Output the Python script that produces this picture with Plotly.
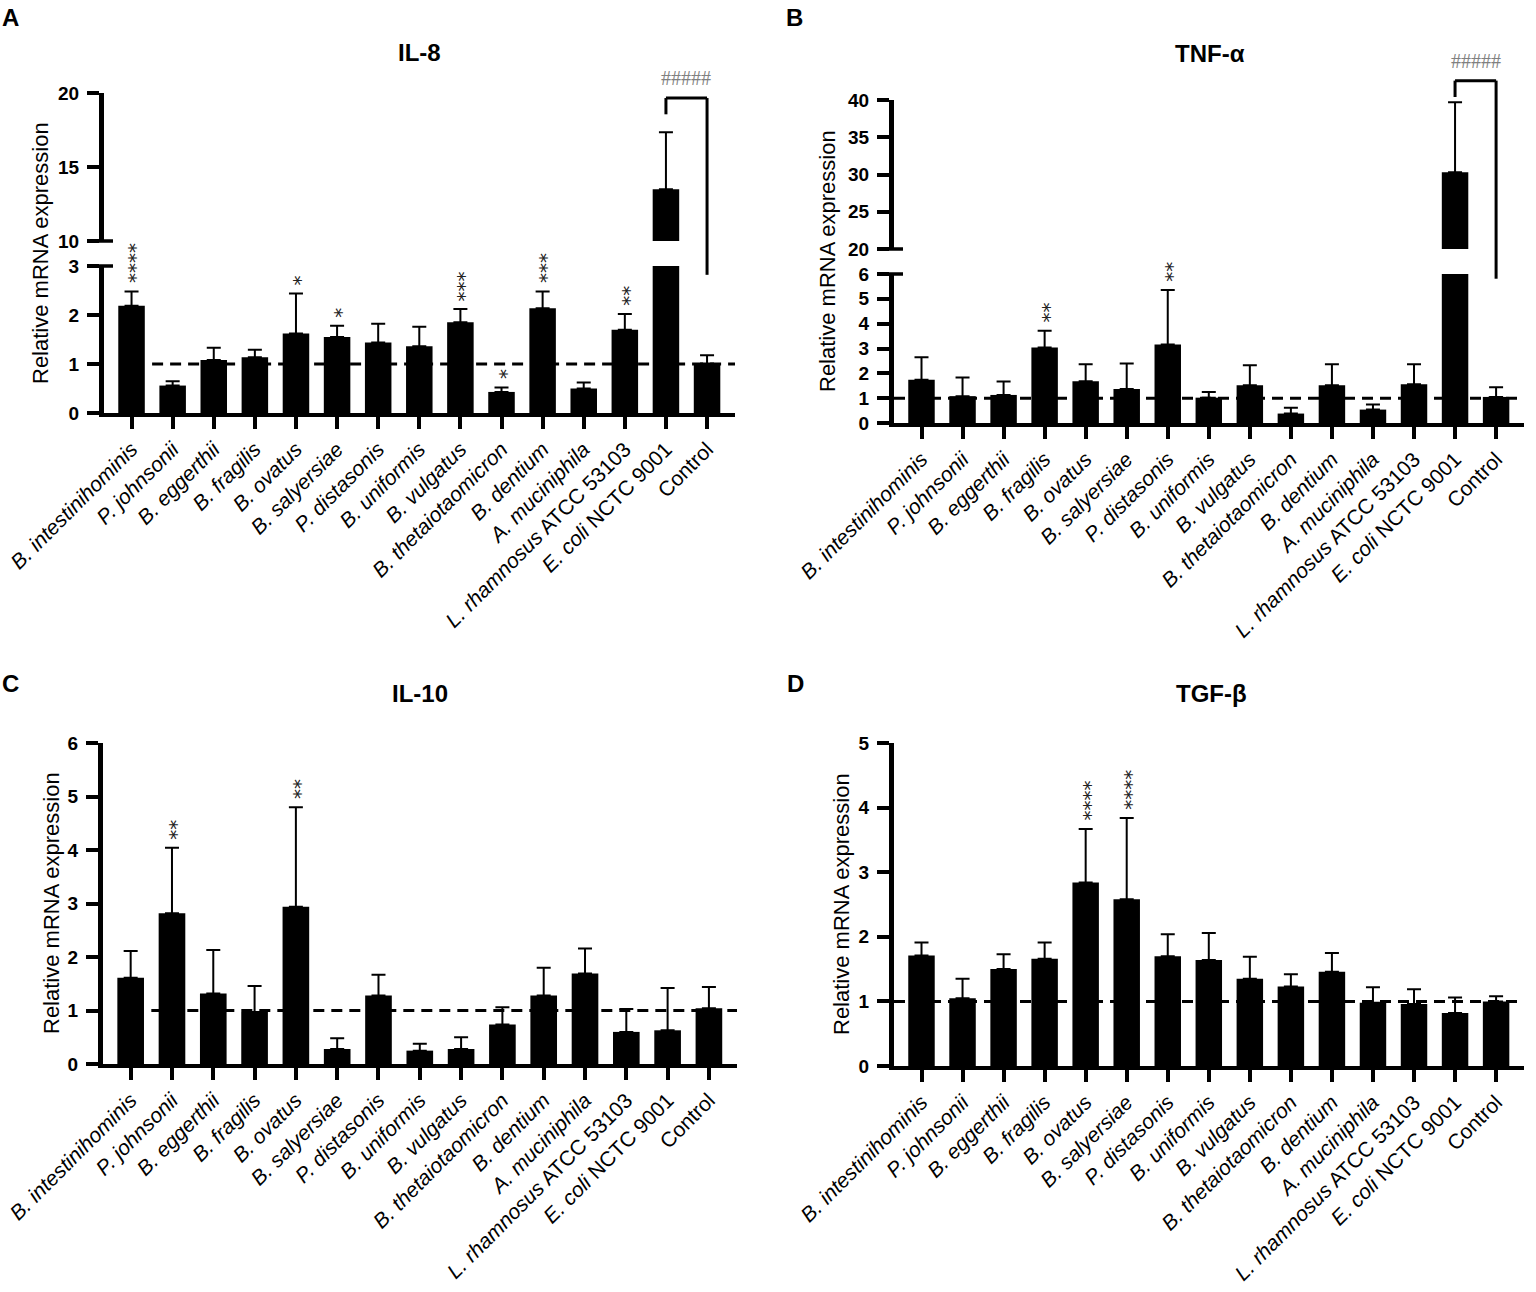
import plotly.graph_objects as go

# categories (x axis) and their display labels
categories = ["B. intestinihominis", "P. johnsonii", "B. eggerthii", "B. fragilis",
              "B. ovatus", "B. salyersiae", "P. distasonis", "B. uniformis",
              "B. vulgatus", "B. thetaiotaomicron", "B. dentium", "A. muciniphila",
              "L. rhamnosus ATCC 53103", "E. coli NCTC 9001", "Control"]
tick_labels = ["<i>B. intestinihominis</i>", "<i>P. johnsonii</i>", "<i>B. eggerthii</i>",
               "<i>B. fragilis</i>", "<i>B. ovatus</i>", "<i>B. salyersiae</i>",
               "<i>P. distasonis</i>", "<i>B. uniformis</i>", "<i>B. vulgatus</i>",
               "<i>B. thetaiotaomicron</i>", "<i>B. dentium</i>", "<i>A. muciniphila</i>",
               "<i>L. rhamnosus</i> ATCC 53103", "<i>E. coli</i> NCTC 9001", "Control"]

# IL-8
il8_mean = [2.19, 0.56, 1.08, 1.14, 1.62, 1.55, 1.44, 1.36, 1.85, 0.43, 2.14, 0.50, 1.70, 13.5, 1.01]
il8_sd = [0.29, 0.09, 0.25, 0.15, 0.82, 0.23, 0.38, 0.40, 0.27, 0.09, 0.34, 0.12, 0.32, 3.84, 0.17]
il8_sig = ["****", "", "", "", "*", "*", "", "", "***", "*", "***", "", "**", "", ""]

# TNF-alpha
tnf_mean = [1.74, 1.08, 1.13, 3.04, 1.68, 1.37, 3.16, 1.02, 1.52, 0.38, 1.52, 0.54, 1.56, 30.3, 1.05]
tnf_sd = [0.91, 0.75, 0.54, 0.67, 0.69, 1.03, 2.20, 0.23, 0.81, 0.23, 0.85, 0.21, 0.81, 9.4, 0.39]
tnf_sig = ["", "", "", "**", "", "", "**", "", "", "", "", "", "", "", ""]

# IL-10
il10_mean = [1.61, 2.82, 1.32, 0.97, 2.94, 0.28, 1.28, 0.25, 0.28, 0.74, 1.28, 1.69, 0.60, 0.63, 1.04]
il10_sd = [0.50, 1.22, 0.81, 0.49, 1.86, 0.20, 0.39, 0.13, 0.22, 0.32, 0.52, 0.47, 0.43, 0.79, 0.40]
il10_sig = ["", "**", "", "", "**", "", "", "", "", "", "", "", "", "", ""]

# TGF-beta
tgf_mean = [1.71, 1.05, 1.50, 1.66, 2.84, 2.58, 1.70, 1.64, 1.35, 1.23, 1.46, 0.98, 0.96, 0.82, 1.00]
tgf_sd = [0.20, 0.30, 0.23, 0.25, 0.83, 1.26, 0.34, 0.42, 0.34, 0.19, 0.29, 0.24, 0.23, 0.24, 0.08]
tgf_sig = ["", "", "", "", "****", "****", "", "", "", "", "", "", "", "", ""]

W, H = 1536, 1292


def px_x(p):
    return p / W


def px_y(p):
    return 1 - p / H


def to_paper(v, dom, rng):
    return dom[0] + (v - rng[0]) / (rng[1] - rng[0]) * (dom[1] - dom[0])


X_RANGE = [-0.67, 14.68]
A_X = [px_x(104), px_x(735)]
B_X = [px_x(894), px_x(1524)]
C_X = [px_x(103), px_x(737)]
D_X = [px_x(894), px_x(1524)]
A_LO, A_HI = [px_y(413), px_y(266)], [px_y(241), px_y(93)]
B_LO, B_HI = [px_y(423), px_y(274)], [px_y(249), px_y(100)]
C_Y = [px_y(1064), px_y(743)]
D_Y = [px_y(1066), px_y(743)]

fig = go.Figure()


def add_bars(means, sd, xa, ya):
    fig.add_trace(go.Bar(
        x=categories, y=means, xaxis=xa, yaxis=ya,
        marker=dict(color='black', line=dict(width=0)),
        error_y=dict(type='data', array=sd, arrayminus=[0] * len(sd), symmetric=False,
                     color='black', thickness=2, width=7),
        showlegend=False, hoverinfo='skip'
    ))


def add_stars(sig, means, sd, xa, ya):
    for cat, s, m, e in zip(categories, sig, means, sd):
        if s:
            fig.add_annotation(x=cat, y=m + e, xref=xa, yref=ya, text=s, textangle=-90,
                               showarrow=False, xanchor='center', yanchor='bottom',
                               yshift=6, xshift=4,
                               font=dict(family='DejaVu Sans', size=20, color='#222'))


add_bars(il8_mean, il8_sd, 'x', 'y')
add_bars(il8_mean, il8_sd, 'x', 'y2')
add_bars(tnf_mean, tnf_sd, 'x2', 'y3')
add_bars(tnf_mean, tnf_sd, 'x2', 'y4')
add_bars(il10_mean, il10_sd, 'x3', 'y5')
add_bars(tgf_mean, tgf_sd, 'x4', 'y6')

add_stars(il8_sig, il8_mean, il8_sd, 'x', 'y')
add_stars(tnf_sig, tnf_mean, tnf_sd, 'x2', 'y3')
add_stars(il10_sig, il10_mean, il10_sd, 'x3', 'y5')
add_stars(tgf_sig, tgf_mean, tgf_sd, 'x4', 'y6')


def x_axis(dom, anchor):
    return dict(domain=dom, anchor=anchor, range=X_RANGE, type='category',
                showline=True, linewidth=3.5, linecolor='black',
                ticks='outside', ticklen=12, tickwidth=4, tickcolor='black',
                tickangle=-45, tickmode='array', tickvals=categories, ticktext=tick_labels,
                tickfont=dict(family='Liberation Sans, Arial', size=21, color='black'),
                showgrid=False, zeroline=False, fixedrange=True, automargin=False)


def y_axis(dom, anchor, rng, vals):
    return dict(domain=dom, anchor=anchor, range=rng, tickmode='array', tickvals=vals,
                showline=True, linewidth=5, linecolor='black',
                ticks='outside', ticklen=12, tickwidth=3.5, tickcolor='black',
                tickfont=dict(family='Liberation Sans, Arial', size=19, weight='bold', color='black'),
                ticklabelstandoff=4, showgrid=False, zeroline=False, fixedrange=True,
                automargin=False)


shapes = []

# reference line at 1
for xa, x0, x1, ya in [('x', 0.5, X_RANGE[1], 'y'), ('x3', 0.5, X_RANGE[1], 'y5')]:
    shapes.append(dict(type='line', xref=xa, yref=ya, x0=x0, x1=x1, y0=1, y1=1,
                       line=dict(color='black', width=3, dash='11px,7px')))
for xa, ya in [('x2', 'y3'), ('x4', 'y6')]:
    shapes.append(dict(type='line', xref=xa + ' domain', yref=ya, x0=0, x1=1, y0=1, y1=1,
                       line=dict(color='black', width=3, dash='11px,7px')))

# axis break caps
for xa, y in [('x', A_HI[0]), ('x', A_LO[1]), ('x2', B_HI[0]), ('x2', B_LO[1])]:
    shapes.append(dict(type='line', xref=xa + ' domain', xsizemode='pixel', xanchor=0,
                       x0=-8, x1=9, yref='paper', y0=y, y1=y,
                       line=dict(color='black', width=3.5)))

# significance brackets (E. coli vs Control)
brackets = [
    ('x', 19.66, 18.56, 2.82, A_HI, [10, 20], A_LO, [0, 3]),
    ('x2', 42.6, 40.4, 5.81, B_HI, [20, 40], B_LO, [0, 6]),
]
for xa, top, left_bot, right_bot, hi_dom, hi_rng, lo_dom, lo_rng in brackets:
    yt = to_paper(top, hi_dom, hi_rng)
    yl = to_paper(left_bot, hi_dom, hi_rng)
    yr = to_paper(right_bot, lo_dom, lo_rng)
    line = dict(color='black', width=3)
    shapes.append(dict(type='line', xref=xa, yref='paper', x0=categories[13], x1=categories[14],
                       y0=yt, y1=yt, line=line))
    shapes.append(dict(type='line', xref=xa, yref='paper', x0=categories[13], x1=categories[13],
                       y0=yt, y1=yl, line=line))
    shapes.append(dict(type='line', xref=xa, yref='paper', x0=categories[14], x1=categories[14],
                       y0=yt, y1=yr, line=line))
    fig.add_annotation(x=13.5, xref=xa, y=yt, yref='paper', xanchor='center', yanchor='bottom',
                       yshift=7, text='#####', showarrow=False,
                       font=dict(family='Liberation Serif', size=20, color='#808080'))

# titles, panel letters, y titles
titles = [("IL-8", 419, 52), ("TNF-α", 1210, 53), ("IL-10", 420, 693), ("TGF-β", 1211, 693)]
for t, x, y in titles:
    fig.add_annotation(x=px_x(x), y=px_y(y), xref='paper', yref='paper', text=t, showarrow=False,
                       xanchor='center', yanchor='middle',
                       font=dict(family='Liberation Sans, Arial', size=24, weight='bold', color='black'))
letters = [("A", 10, 17), ("B", 794, 17), ("C", 10, 683), ("D", 795, 683)]
for t, x, y in letters:
    fig.add_annotation(x=px_x(x), y=px_y(y), xref='paper', yref='paper', text=t, showarrow=False,
                       xanchor='center', yanchor='middle',
                       font=dict(family='Liberation Sans, Arial', size=24, weight='bold', color='black'))
ytitles = [(40, 253), (827, 261), (51, 903), (841, 904)]
for x, y in ytitles:
    fig.add_annotation(x=px_x(x), y=px_y(y), xref='paper', yref='paper',
                       text='Relative mRNA expression', textangle=-90, showarrow=False,
                       xanchor='center', yanchor='middle',
                       font=dict(family='Liberation Sans, Arial', size=22, color='black'))

fig.update_layout(
    width=W, height=H,
    margin=dict(l=0, r=0, t=0, b=0, autoexpand=False),
    paper_bgcolor='white', plot_bgcolor='white',
    bargap=0.355, showlegend=False,
    shapes=shapes,
    xaxis=x_axis(A_X, 'y'),
    xaxis2=x_axis(B_X, 'y3'),
    xaxis3=x_axis(C_X, 'y5'),
    xaxis4=x_axis(D_X, 'y6'),
    yaxis=y_axis(A_LO, 'x', [0, 3], [0, 1, 2, 3]),
    yaxis2=y_axis(A_HI, 'x', [10, 20], [10, 15, 20]),
    yaxis3=y_axis(B_LO, 'x2', [0, 6], [0, 1, 2, 3, 4, 5, 6]),
    yaxis4=y_axis(B_HI, 'x2', [20, 40], [20, 25, 30, 35, 40]),
    yaxis5=y_axis(C_Y, 'x3', [0, 6], [0, 1, 2, 3, 4, 5, 6]),
    yaxis6=y_axis(D_Y, 'x4', [0, 5], [0, 1, 2, 3, 4, 5]),
)

fig.write_html("out.html", config={'displayModeBar': False},
               post_script="document.body.style.margin='0px';")
